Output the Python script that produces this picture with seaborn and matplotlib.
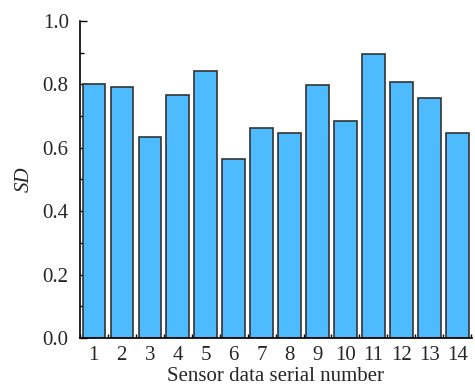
import matplotlib
matplotlib.use("Agg")
import matplotlib.pyplot as plt
import seaborn as sns
import pandas as pd
import numpy as np
from matplotlib.ticker import MultipleLocator

# Data
serial = [str(i) for i in range(1, 15)]
sd_values = [0.801, 0.791, 0.635, 0.767, 0.842, 0.564, 0.662,
             0.645, 0.799, 0.685, 0.896, 0.807, 0.756, 0.645]

df = pd.DataFrame({'serial': serial, 'SD': sd_values})

sns.set_style('ticks')
plt.rcParams['font.family'] = ['Liberation Serif', 'DejaVu Serif']
plt.rcParams['font.size'] = 15

fig = plt.figure(figsize=(4.75, 3.88), dpi=100)
ax = fig.add_axes([0.168, 0.129, 0.826, 0.817])

sns.barplot(data=df, x='serial', y='SD', color='#4FBBFF', saturation=1,
            edgecolor='#333333', linewidth=1.2, width=0.8, ax=ax)

ax.set_ylim(0, 1.0)
ax.set_xlim(-0.47, 13.53)
ax.yaxis.set_major_locator(MultipleLocator(0.2))
ax.yaxis.set_minor_locator(MultipleLocator(0.1))
ax.set_xticks(np.arange(-0.5, 14, 1), minor=True)
ax.yaxis.set_major_formatter(matplotlib.ticker.FormatStrFormatter('%.1f'))

ax.tick_params(axis='both', which='major', direction='in', length=5, width=1,
               labelsize=15, color='black')
ax.tick_params(axis='both', which='minor', direction='in', length=3, width=1,
               color='black')
ax.tick_params(axis='x', which='major', pad=6)
ax.tick_params(axis='y', which='major', pad=8)

for s in ['top', 'right']:
    ax.spines[s].set_visible(False)
for s in ['left', 'bottom']:
    ax.spines[s].set_linewidth(1.2)
    ax.spines[s].set_color('black')

ax.set_xlabel('Sensor data serial number', fontsize=15, labelpad=1)
ax.set_ylabel('SD', fontsize=15, style='italic', labelpad=6)

fig.savefig('out.png', dpi=100)
